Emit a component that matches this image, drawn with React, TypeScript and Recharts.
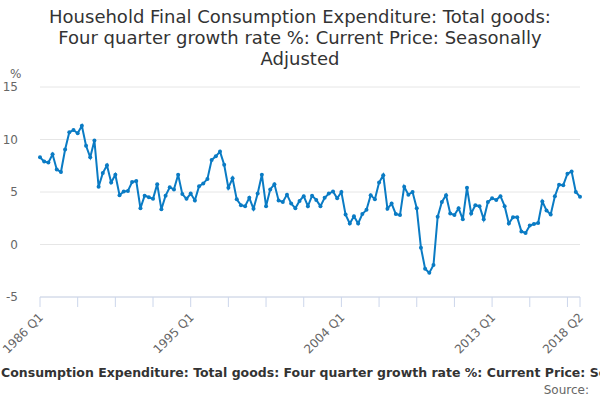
import React from "react";
import { LineChart, Line, XAxis, YAxis, CartesianGrid } from "recharts";

const startYear = 1986;
const values: number[] = [
  8.3, 7.9, 7.8, 8.6, 7.15, 6.9, 9.05, 10.7, 10.9, 10.6,
  11.3, 9.4, 8.3, 9.9, 5.5, 6.8, 7.55, 5.9, 6.65, 4.7,
  5.05, 5.1, 5.95, 6.05, 3.45, 4.65, 4.5, 4.35, 5.75, 3.35,
  4.65, 5.45, 5.25, 6.65, 4.8, 4.35, 4.85, 4.2, 5.55, 5.8,
  6.25, 8.05, 8.4, 8.85, 7.6, 5.4, 6.3, 4.3, 3.75, 3.65,
  4.45, 3.4, 4.85, 6.65, 3.65, 5.25, 5.75, 4.2, 4.05, 4.75,
  3.9, 3.45, 4.15, 4.6, 3.65, 4.65, 4.25, 3.65, 4.45, 4.85,
  5.05, 4.4, 5.0, 2.85, 2.0, 2.7, 2.0, 2.9, 3.3, 4.7,
  4.3, 5.9, 6.6, 3.4, 3.9, 2.9, 2.8, 5.5, 4.75, 5.0,
  3.45, -0.3, -2.3, -2.7, -1.95, 2.65, 4.05, 4.7, 2.95, 2.8,
  3.45, 2.4, 5.4, 2.95, 3.75, 3.65, 2.4, 4.05, 4.4, 4.25,
  4.6, 3.65, 2.0, 2.6, 2.6, 1.25, 1.1, 1.8, 1.95, 2.05,
  4.1, 3.25, 2.85, 4.6, 5.7, 5.65, 6.75, 6.95, 5.0, 4.55,
];
const quarters: string[] = values.map(
  (_, i) => `${startYear + Math.floor(i / 4)} Q${(i % 4) + 1}`
);
const tickIndexes: number[] = [0, 9, 18, 27, 36, 45, 54, 63, 72, 81, 90, 99, 108, 117, 126, 129];
const labelIndexes: number[] = [0, 36, 72, 108, 129];
const yTicks: number[] = [-5, 0, 5, 10, 15];

const titleText =
  "Household Final Consumption Expenditure: Total goods: Four quarter growth rate %: Current Price: Seasonally Adjusted";

const data = values.map((v, i) => ({ i, q: quarters[i], v }));

const font = "'DejaVu Sans', sans-serif";

const XTick = (props: any) => {
  const { x, y, payload } = props;
  const idx = payload.value as number;
  if (!labelIndexes.includes(idx)) return null;
  return (
    <g transform={`translate(${x + 4},${y + 9})`}>
      <text
        x={0}
        y={0}
        textAnchor="end"
        transform="rotate(-45)"
        fill="#666666"
        fontSize={12}
        fontFamily={font}
      >
        {quarters[idx]}
      </text>
    </g>
  );
};

export default function App() {
  return (
    <div
      style={{
        position: "absolute",
        left: 0,
        top: 0,
        width: 600,
        height: 400,
        overflow: "hidden",
        background: "#fff",
        fontFamily: font,
      }}
    >
      <div
        style={{
          position: "absolute",
          left: 45,
          width: 510,
          top: 6,
          textAlign: "center",
          fontSize: 18,
          lineHeight: "21px",
          color: "#333333",
        }}
      >
        {titleText}
      </div>
      <div
        style={{
          position: "absolute",
          left: 10,
          top: 67,
          fontSize: 12,
          color: "#666666",
        }}
      >
        %
      </div>
      <LineChart
        width={600}
        height={400}
        data={data}
        margin={{ top: 87, right: 20, bottom: 0, left: 0 }}
        style={{ position: "absolute", left: 0, top: 0 }}
      >
        <CartesianGrid vertical={false} stroke="#e6e6e6" />
        <XAxis
          dataKey="i"
          type="number"
          domain={[0, 129]}
          ticks={tickIndexes}
          interval={0}
          height={103}
          tick={<XTick />}
          tickSize={10}
          axisLine={{ stroke: "#ccd6eb" }}
          tickLine={{ stroke: "#ccd6eb" }}
        />
        <YAxis
          domain={[-5, 15]}
          ticks={yTicks}
          width={40}
          axisLine={false}
          tickLine={false}
          tick={{ fill: "#666666", fontSize: 12, fontFamily: font }}
          tickMargin={16}
        />
        <Line
          type="linear"
          dataKey="v"
          stroke="#0a7bc4"
          strokeWidth={2}
          dot={{ r: 2, fill: "#0a7bc4", stroke: "#0a7bc4", strokeWidth: 0 }}
          isAnimationActive={false}
        />
      </LineChart>
      <svg
        width={600}
        height={400}
        style={{ position: "absolute", left: 0, top: 0, pointerEvents: "none" }}
      >
        <text
          x={308}
          y={377}
          textAnchor="middle"
          fontSize={12.5}
          fontWeight="bold"
          fill="#333333"
          fontFamily={font}
        >
          {titleText}
        </text>
        <text
          x={589}
          y={394}
          textAnchor="end"
          fontSize={12}
          fill="#666666"
          fontFamily={font}
        >
          Source:
        </text>
      </svg>
    </div>
  );
}
